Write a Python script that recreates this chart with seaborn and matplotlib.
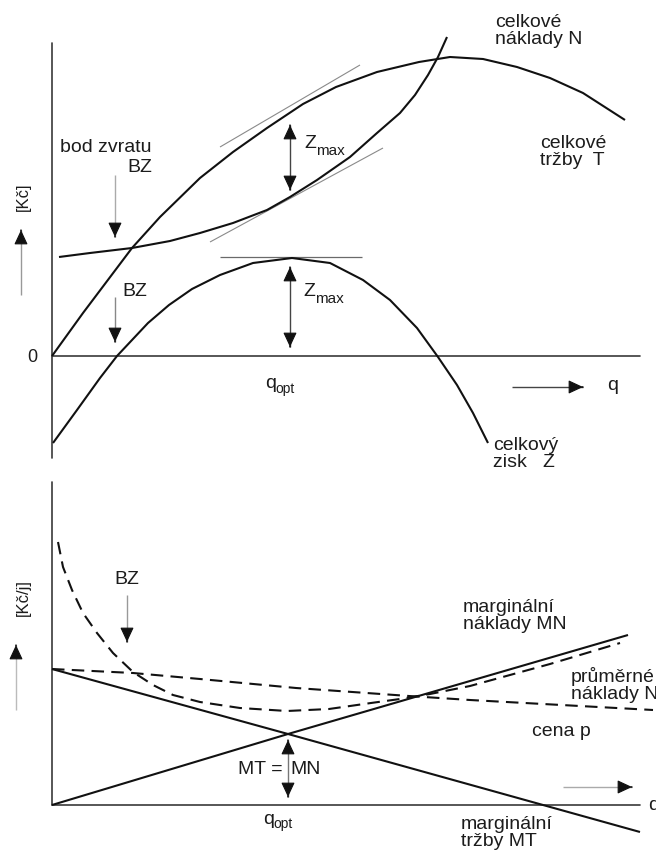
import matplotlib
matplotlib.use("Agg")
import matplotlib.pyplot as plt
import seaborn as sns
import pandas as pd

sns.set_theme(style="white")
plt.rcParams['font.family'] = ['Liberation Sans', 'DejaVu Sans']

# ---------------- data ----------------
# top panel: q vs. Kč
T_q = [0, 0.31, 0.80, 1.08, 1.48, 1.81, 2.15, 2.51, 2.84, 3.25, 3.67, 3.98, 4.31, 4.65, 4.98, 5.31, 5.73]
T_v = [0, 0.43, 1.08, 1.39, 1.78, 2.04, 2.28, 2.52, 2.69, 2.84, 2.94, 2.99, 2.97, 2.89, 2.78, 2.63, 2.36]
N_q = [0.07, 0.38, 0.80, 1.18, 1.48, 1.81, 2.15, 2.38, 2.65, 2.98, 3.25, 3.48, 3.63, 3.76, 3.86, 3.95]
N_v = [0.99, 1.03, 1.08, 1.15, 1.23, 1.33, 1.46, 1.59, 1.76, 1.99, 2.23, 2.43, 2.61, 2.81, 2.99, 3.19]
Z_q = [0.01, 0.25, 0.48, 0.65, 0.96, 1.17, 1.40, 1.68, 2.01, 2.40, 2.78, 3.11, 3.38, 3.65, 3.86, 4.05, 4.21, 4.36]
Z_v = [-0.87, -0.54, -0.22, 0.0, 0.33, 0.51, 0.67, 0.81, 0.93, 0.98, 0.93, 0.76, 0.56, 0.28, -0.01, -0.29, -0.57, -0.87]
T_tan_q = [1.68, 3.08]
T_tan_v = [2.09, 2.91]
N_tan_q = [1.58, 3.31]
N_tan_v = [1.14, 2.08]
Z_tan_q = [1.68, 3.10]
Z_tan_v = [0.99, 0.99]

# bottom panel: q vs. Kč/j
MN_q = [0, 2.36, 5.76]
MN_v = [0, 0.71, 1.70]
MT_q = [0, 2.36, 5.88]
MT_v = [1.36, 0.71, -0.27]
P_q = [0, 0.81, 1.48, 2.44, 3.57, 4.18, 6.01]
P_v = [1.36, 1.32, 1.26, 1.17, 1.09, 1.05, 0.95]
AC_q = [0.06, 0.11, 0.20, 0.31, 0.45, 0.61, 0.81, 1.01, 1.21, 1.48, 1.88, 2.35, 2.77,
        3.19, 3.48, 3.78, 4.18, 4.58, 4.98, 5.38, 5.68]
AC_v = [2.63, 2.38, 2.15, 1.92, 1.72, 1.52, 1.33, 1.20, 1.10, 1.03, 0.97, 0.94, 0.96,
        1.02, 1.06, 1.11, 1.19, 1.30, 1.41, 1.53, 1.62]

q_opt = 2.38
BZ_top_q = 0.63
BZ_bot_q = 0.75

# ---------------- figure ----------------
fig = plt.figure(figsize=(6.56, 8.52), dpi=100)
ax1 = fig.add_axes([0, 372 / 852, 1, 480 / 852])
ax2 = fig.add_axes([0, 0, 1, 372 / 852])
ax1.set_xlim(-0.52, 6.04)
ax1.set_ylim(-1.24, 3.56)
ax2.set_xlim(-0.52, 6.04)
ax2.set_ylim(-0.47, 3.25)
for ax in (ax1, ax2):
    ax.axis('off')

TXT = '#1c1c1c'
AX = '#3a3a3a'
FS = 14
FS_SUB = 11
LW = 1.5


def curve(ax, xs, ys, dashed=False, color='#111111', lw=LW):
    df = pd.DataFrame({'q': xs, 'v': ys})
    sns.lineplot(data=df, x='q', y='v', ax=ax, color=color, lw=lw,
                 sort=False, estimator=None, legend=False)
    ln = ax.lines[-1]
    ln.set_clip_on(False)
    ln.set_solid_capstyle('butt')
    ln.set_solid_joinstyle('round')
    if dashed:
        ln.set_dashes((6, 3.5))
    return ln


def arrow(ax, x, y0, y1, shaft='#666666', both=False, horizontal=False):
    if horizontal:
        ax.plot([y0, y1], [x, x], color=shaft, lw=1.0, solid_capstyle='butt')
    else:
        ax.plot([x, x], [y0, y1], color=shaft, lw=1.0, solid_capstyle='butt')
    style = '-|>,head_length=0.9,head_width=0.42'

    def head(tip, frm):
        if horizontal:
            xy, xyt = (tip, x), (frm, x)
        else:
            xy, xyt = (x, tip), (x, frm)
        ax.annotate('', xy=xy, xytext=xyt,
                    arrowprops=dict(arrowstyle=style, color='#111111', lw=0.8,
                                    shrinkA=0, shrinkB=0, mutation_scale=10))
    d = 0.001 if y1 > y0 else -0.001
    head(y1, y1 - d)
    if both:
        head(y0, y0 + d)


# ---------- top panel ----------
ax1.plot([0, 0], [-1.02, 3.13], color=AX, lw=1.2)
ax1.plot([0, 5.88], [0, 0], color=AX, lw=1.2)

curve(ax1, T_tan_q, T_tan_v, color='#8a8a8a', lw=0.8)
curve(ax1, N_tan_q, N_tan_v, color='#8a8a8a', lw=0.8)
curve(ax1, Z_tan_q, Z_tan_v, color='#6a6a6a', lw=0.9)
curve(ax1, T_q, T_v)
curve(ax1, N_q, N_v)
curve(ax1, Z_q, Z_v)

arrow(ax1, q_opt, 1.66, 2.31, shaft='#444444', both=True)
arrow(ax1, q_opt, 0.09, 0.89, shaft='#444444', both=True)
arrow(ax1, BZ_top_q, 1.81, 1.19, shaft='#aaaaaa')
arrow(ax1, BZ_top_q, 0.59, 0.14, shaft='#888888')
arrow(ax1, -0.31, 0.61, 1.26, shaft='#999999')
arrow(ax1, -0.31, 4.60, 5.31, shaft='#444444', horizontal=True)

ax1.text(-0.20, -0.01, '0', fontsize=FS - 1, color=TXT, ha='center', va='center')
ax1.text(-0.29, 1.59, '[Kč]', fontsize=FS - 2, color=TXT, ha='center', va='center', rotation=90)
ax1.text(0.08, 2.09, 'bod zvratu', fontsize=FS, color=TXT, ha='left', va='center')
ax1.text(0.88, 1.88, 'BZ', fontsize=FS, color=TXT, ha='center', va='center')
ax1.text(0.83, 0.64, 'BZ', fontsize=FS, color=TXT, ha='center', va='center')
ax1.text(2.52, 2.12, 'Z', fontsize=FS, color=TXT, ha='left', va='center')
ax1.text(2.645, 2.05, 'max', fontsize=FS_SUB, color=TXT, ha='left', va='center')
ax1.text(2.51, 0.64, 'Z', fontsize=FS, color=TXT, ha='left', va='center')
ax1.text(2.635, 0.57, 'max', fontsize=FS_SUB, color=TXT, ha='left', va='center')
ax1.text(2.13, -0.28, 'q', fontsize=FS, color=TXT, ha='left', va='center')
ax1.text(2.235, -0.33, 'opt', fontsize=FS_SUB - 1, color=TXT, ha='left', va='center')
ax1.text(5.55, -0.29, 'q', fontsize=FS, color=TXT, ha='left', va='center')
ax1.text(4.43, 3.25, 'celkové\nnáklady N', fontsize=FS, color=TXT, ha='left', va='center', linespacing=0.95)
ax1.text(4.88, 2.04, 'celkové\ntržby  T', fontsize=FS, color=TXT, ha='left', va='center', linespacing=0.95)
ax1.text(4.41, -0.98, 'celkový\nzisk   Z', fontsize=FS, color=TXT, ha='left', va='center', linespacing=0.95)

# ---------- bottom panel ----------
ax2.plot([0, 0], [0, 3.23], color=AX, lw=1.2)
ax2.plot([0, 5.88], [0, 0], color=AX, lw=1.2)

curve(ax2, MN_q, MN_v)
curve(ax2, MT_q, MT_v)
curve(ax2, P_q, P_v, dashed=True)
curve(ax2, AC_q, AC_v, dashed=True)

arrow(ax2, BZ_bot_q, 2.10, 1.63, shaft='#999999')
arrow(ax2, 2.36, 0.08, 0.65, shaft='#777777', both=True)
arrow(ax2, -0.36, 0.95, 1.60, shaft='#bbbbbb')
arrow(ax2, 0.18, 5.11, 5.80, shaft='#aaaaaa', horizontal=True)

ax2.text(-0.29, 2.07, '[Kč/j]', fontsize=FS - 2, color=TXT, ha='center', va='center', rotation=90)
ax2.text(0.75, 2.25, 'BZ', fontsize=FS, color=TXT, ha='center', va='center')
ax2.text(4.11, 1.89, 'marginální\nnáklady MN', fontsize=FS, color=TXT, ha='left', va='center', linespacing=0.95)
ax2.text(5.19, 1.20, 'průměrné\nnáklady N', fontsize=FS, color=TXT, ha='left', va='center', linespacing=0.95)
ax2.text(4.80, 0.74, 'cena p', fontsize=FS, color=TXT, ha='left', va='center')
ax2.text(2.31, 0.35, 'MT =', fontsize=FS, color=TXT, ha='right', va='center')
ax2.text(2.38, 0.35, 'MN', fontsize=FS, color=TXT, ha='left', va='center')
ax2.text(2.11, -0.15, 'q', fontsize=FS, color=TXT, ha='left', va='center')
ax2.text(2.215, -0.19, 'opt', fontsize=FS_SUB - 1, color=TXT, ha='left', va='center')
ax2.text(4.09, -0.28, 'marginální\ntržby MT', fontsize=FS, color=TXT, ha='left', va='center', linespacing=0.95)
ax2.text(5.96, 0.0, 'q', fontsize=FS, color=TXT, ha='left', va='center')

fig.savefig('out.png', dpi=100)
